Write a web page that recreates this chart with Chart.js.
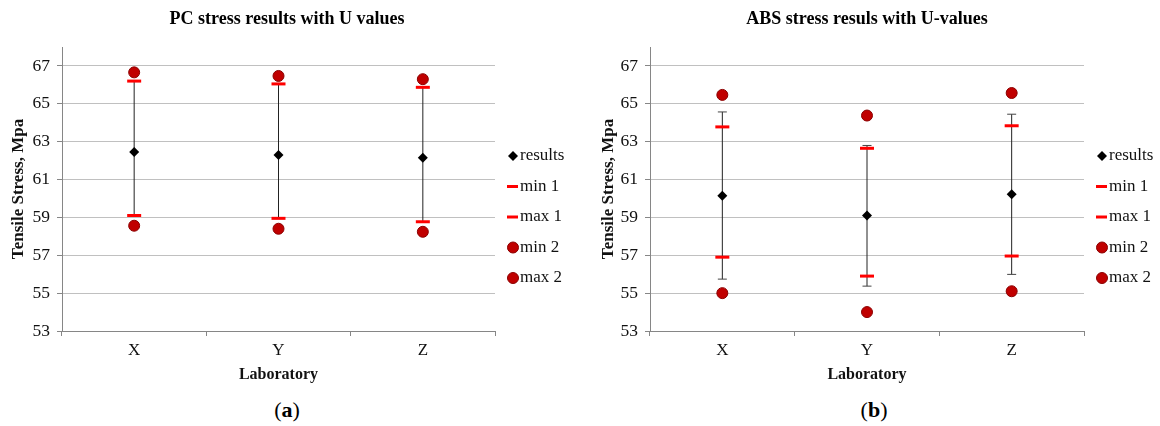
<!DOCTYPE html>
<html>
<head>
<meta charset="utf-8">
<script src="https://cdn.jsdelivr.net/npm/chart.js@4.4.1/dist/chart.umd.min.js"></script>
<style>
  body { margin: 0; background: #fff; width: 1160px; height: 426px; position: relative; overflow: hidden; }
  canvas { position: absolute; top: 0; }
  #pcChart { left: 0; }
  #absChart { left: 580px; }
  .cap { position: absolute; top: 397px; width: 200px; text-align: center;
         font-family: "Liberation Serif", serif; font-size: 22px; color: #000; }
</style>
</head>
<body>
<canvas id="pcChart" width="580" height="392"></canvas>
<canvas id="absChart" width="580" height="392"></canvas>
<div class="cap" style="left:187px">(<b>a</b>)</div>
<div class="cap" style="left:774px">(<b>b</b>)</div>
<script>
const labs = ['X', 'Y', 'Z'];
const yTicks = [53, 55, 57, 59, 61, 63, 65, 67];

// (a) PC
const pcResults = [62.45, 62.3, 62.15];
const pcBarLow = [59.1, 58.95, 58.77];
const pcBarHigh = [66.2, 66.05, 65.87];
const pcMin1 = [59.1, 58.95, 58.77];
const pcMax1 = [66.2, 66.05, 65.87];
const pcMin2 = [58.56, 58.4, 58.24];
const pcMax2 = [66.66, 66.47, 66.3];

// (b) ABS
const absResults = [60.15, 59.1, 60.22];
const absBarLow = [55.74, 55.37, 55.99];
const absBarHigh = [64.57, 62.8, 64.45];
const absMin1 = [56.9, 55.9, 56.96];
const absMax1 = [63.78, 62.65, 63.84];
const absMin2 = [55.0, 54.0, 55.1];
const absMax2 = [65.47, 64.38, 65.57];

const serif = "'Liberation Serif', 'Times New Roman', serif";
const axisGray = '#868686';

// title centred on the whole panel (legend included), like the Excel one
const panelTitle = {
    id: 'panelTitle',
    afterDraw(chart, args, opts) {
        const ctx = chart.ctx;
        ctx.save();
        ctx.font = 'bold 18px ' + serif;
        ctx.fillStyle = '#000';
        ctx.textAlign = 'center';
        ctx.textBaseline = 'middle';
        ctx.fillText(opts.text, chart.width / 2 - 3, 19);
        ctx.restore();
    }
};

// legend drawn to the right of the plot
const sideLegend = {
    id: 'sideLegend',
    afterDraw(chart) {
        const { ctx, chartArea } = chart;
        const x = chartArea.right + 18;
        let y = chartArea.top + 109;
        ctx.save();
        ctx.font = '17px ' + serif;
        ctx.textBaseline = 'middle';
        chart.data.datasets.forEach(ds => {
            if (!ds.legendMark) return;
            ctx.beginPath();
            if (ds.legendMark === 'diamond') {
                ctx.fillStyle = '#000';
                ctx.moveTo(x, y - 5); ctx.lineTo(x + 5, y); ctx.lineTo(x, y + 5); ctx.lineTo(x - 5, y);
                ctx.closePath();
                ctx.fill();
            } else if (ds.legendMark === 'dash') {
                ctx.strokeStyle = '#ff0000';
                ctx.lineWidth = 3;
                ctx.moveTo(x - 6, y); ctx.lineTo(x + 5, y);
                ctx.stroke();
            } else {
                ctx.fillStyle = '#c00000';
                ctx.strokeStyle = '#8b0000';
                ctx.lineWidth = 1;
                ctx.arc(x, y, 5.5, 0, Math.PI * 2);
                ctx.fill();
                ctx.stroke();
            }
            ctx.fillStyle = '#111';
            ctx.fillText(ds.label, x + 7, y);
            y += 30.5;
        });
        ctx.restore();
    }
};

function makeChart(id, title, results, low, high, min1, max1, min2, max2, axisW, yTitlePad, padRight) {
    const errData = [];
    labs.forEach((l, i) => {
        errData.push({ x: l, y: low[i] }, { x: l, y: high[i] }, { x: l, y: null });
    });

    new Chart(document.getElementById(id), {
        type: 'line',
        data: {
            labels: labs,
            datasets: [
                { label: 'results', data: results, legendMark: 'diamond', showLine: false,
                  pointStyle: 'rectRot', pointRadius: 5, backgroundColor: '#000', borderColor: '#000', borderWidth: 0 },
                { label: 'min 1', data: min1, legendMark: 'dash', showLine: false,
                  pointStyle: 'line', pointRadius: 7, borderColor: '#ff0000', pointBorderWidth: 3 },
                { label: 'max 1', data: max1, legendMark: 'dash', showLine: false,
                  pointStyle: 'line', pointRadius: 7, borderColor: '#ff0000', pointBorderWidth: 3 },
                { label: 'min 2', data: min2, legendMark: 'circle', showLine: false,
                  pointStyle: 'circle', pointRadius: 5.5, backgroundColor: '#c00000', borderColor: '#8b0000', pointBorderWidth: 1 },
                { label: 'max 2', data: max2, legendMark: 'circle', showLine: false,
                  pointStyle: 'circle', pointRadius: 5.5, backgroundColor: '#c00000', borderColor: '#8b0000', pointBorderWidth: 1 },
                // error bars: vertical line with small caps
                { label: 'U', data: errData, borderColor: '#222', borderWidth: 1, spanGaps: false,
                  pointStyle: 'line', pointRadius: 4.5, pointBorderColor: '#444', pointBorderWidth: 1 }
            ]
        },
        options: {
            responsive: false,
            animation: false,
            events: [],
            layout: { padding: { left: 0, right: padRight, top: 47, bottom: 0 } },
            plugins: {
                legend: { display: false },
                tooltip: { enabled: false },
                title: { display: false },
                panelTitle: { text: title }
            },
            scales: {
                x: {
                    offset: true,
                    grid: { offset: true, drawOnChartArea: false, tickLength: 5, tickColor: axisGray },
                    border: { color: axisGray },
                    ticks: { color: '#111', font: { family: serif, size: 17 }, padding: 4 },
                    title: { display: true, text: 'Laboratory', color: '#111',
                             font: { family: serif, size: 16, weight: 'bold' }, padding: { top: 0, bottom: 8 } },
                    afterFit: s => { s.height = 61; }
                },
                y: {
                    min: 53,
                    max: 68,
                    afterBuildTicks: s => { s.ticks = yTicks.map(v => ({ value: v })); },
                    grid: { color: '#c0c0c0', tickLength: 5, tickColor: axisGray },
                    border: { color: axisGray },
                    ticks: { color: '#111', font: { family: serif, size: 17.5 }, padding: 7 },
                    title: { display: true, text: 'Tensile Stress, Mpa', color: '#111',
                             font: { family: serif, size: 17, weight: 'bold' }, padding: { top: yTitlePad, bottom: 0 } },
                    afterFit: s => { s.width = axisW; }
                }
            }
        },
        plugins: [panelTitle, sideLegend]
    });
}

makeChart('pcChart', 'PC stress results with U values',
    pcResults, pcBarLow, pcBarHigh, pcMin1, pcMax1, pcMin2, pcMax2, 62, 8, 85);
makeChart('absChart', 'ABS stress resuls with U-values',
    absResults, absBarLow, absBarHigh, absMin1, absMax1, absMin2, absMax2, 70, 18, 76);
</script>
</body>
</html>
